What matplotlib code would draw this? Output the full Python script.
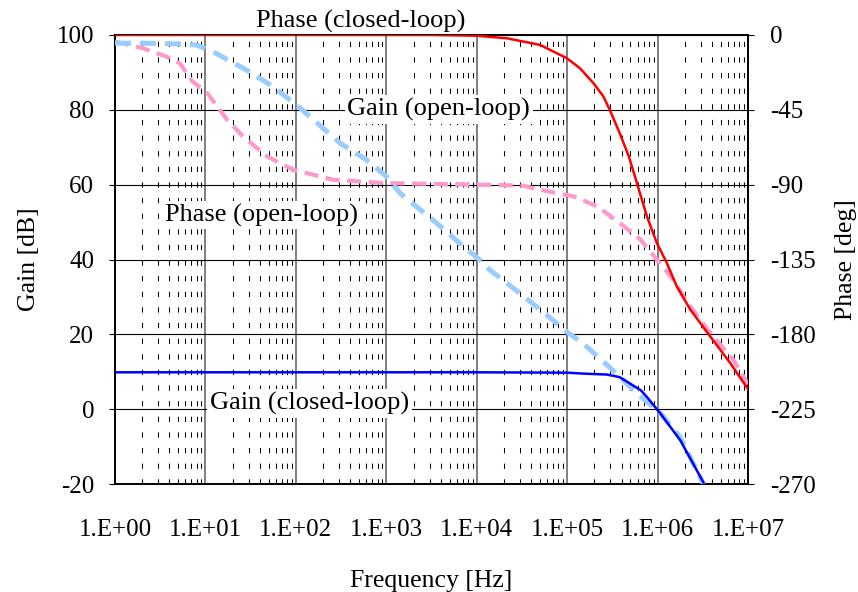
import matplotlib.pyplot as plt
from matplotlib.ticker import LogLocator, NullFormatter

plt.rcParams['font.family'] = ['Liberation Serif', 'DejaVu Serif']
plt.rcParams['font.size'] = 18.5
plt.rcParams['axes.unicode_minus'] = False

# open-loop gain [dB]
ol_gain_freq = [1, 2, 5, 8, 12.8, 19.5, 28.6, 56, 86, 111, 308, 607, 1010,
                1420, 3300, 6530, 1.09e4, 1.4e4, 3.0e4, 6.97e4, 1.0e5,
                1.5e5, 2.95e5, 5.9e5, 1.07e6, 1.78e6, 2.95e6, 3.2e6]
ol_gain_db = [97.8, 97.8, 97.6, 97.3, 95.2, 92.8, 90.6, 86.2, 82.6, 80.5,
              71.1, 66.6, 62.1, 57.7, 50.5, 44.3, 39.8, 37.2, 31.0, 23.8,
              20.6, 17.6, 11.2, 4.3, -1.0, -7.5, -18.2, -20.0]

# closed-loop gain [dB]
cl_gain_freq = [1, 10, 100, 1e3, 1e4, 1e5, 1.5e5, 2.75e5, 3.8e5, 6.5e5,
                7.6e5, 1.07e6, 1.78e6, 3.2e6]
cl_gain_db = [9.9, 9.9, 9.9, 9.9, 9.9, 9.8, 9.55, 9.3, 8.6, 5.1,
              3.3, -1.1, -8.3, -19.5]

# closed-loop phase [deg]
cl_phase_freq = [1, 100, 3160, 1e4, 2.14e4, 5.0e4, 9.9e4, 1.38e5, 1.95e5,
                 2.51e5, 2.95e5, 3.8e5, 4.79e5, 5.89e5, 7.59e5, 9.77e5,
                 1.26e6, 1.62e6, 2.29e6, 3.55e6, 6.3e6, 1e7]
cl_phase_deg = [0, 0, 0, -0.5, -2, -6, -14, -20, -29, -37, -45, -59, -73,
                -89, -109, -125, -137, -151, -165, -179, -197, -213]

# open-loop phase [deg]
ol_phase_freq = [1, 2.04, 3.7, 5.2, 7.2, 10.5, 17.4, 26, 48, 93, 257, 933,
                 3160, 1e4, 3.16e4, 5.0e4, 1.17e5, 2.14e5, 3.8e5, 6.46e5,
                 9.77e5, 1.48e6, 2.14e6, 3.55e6, 6.8e6, 1e7]
ol_phase_deg = [-4, -8, -13, -17, -28, -35, -51, -61, -73, -81, -87, -89,
                -89.5, -90, -90.5, -93, -97, -103, -113, -123, -135, -147,
                -161, -177, -195, -210]

x_ticks = [1e0, 1e1, 1e2, 1e3, 1e4, 1e5, 1e6, 1e7]
x_tick_labels = ['1.E+00', '1.E+01', '1.E+02', '1.E+03', '1.E+04',
                 '1.E+05', '1.E+06', '1.E+07']
gain_ticks = [-20, 0, 20, 40, 60, 80, 100]
phase_ticks = [-270, -225, -180, -135, -90, -45, 0]

fig = plt.figure(figsize=(8.58, 5.92), dpi=100)
ax = fig.add_axes([0.134, 0.182, 0.738, 0.759])
ax2 = ax.twinx()

ax.set_xscale('log')
ax.set_xlim(1, 1e7)
ax.set_ylim(-20, 100)
ax2.set_ylim(-270, 0)

ax.set_xticks(x_ticks, x_tick_labels)
ax.xaxis.set_minor_locator(LogLocator(base=10, subs=range(2, 10), numticks=100))
ax.xaxis.set_minor_formatter(NullFormatter())
ax.set_yticks(gain_ticks)
ax2.set_yticks(phase_ticks)

ax.tick_params(axis='x', which='both', length=0, pad=25, labelsize=18)
ax.tick_params(axis='y', length=4, direction='out', pad=11, labelsize=18)
ax2.tick_params(axis='y', length=4, direction='out', pad=11.5, labelsize=18)

# grid
ax.grid(True, which='major', axis='x', color='#7f7f7f', linewidth=1.4)
ax.grid(True, which='minor', axis='x', color='black', linewidth=0.75,
        linestyle=(0, (5, 10)))
ax.grid(True, which='major', axis='y', color='black', linewidth=0.8)
ax.set_axisbelow(True)

for a in (ax, ax2):
    for sp in a.spines.values():
        sp.set_color('black')
        sp.set_linewidth(1.2)

ax.set_xlabel('Frequency [Hz]', labelpad=21)
ax.set_ylabel('Gain [dB]', labelpad=12)
ax2.set_ylabel('Phase [deg]', labelpad=14)

box = dict(facecolor='white', edgecolor='none', pad=2)
ax.text(3.8e3, 80, 'Gain (open-loop)', ha='center', va='center',
        fontsize=19, bbox=box, zorder=1.5)
ax.text(42, 51.9, 'Phase (open-loop)', ha='center', va='center',
        fontsize=19, bbox=box, zorder=1.5)
ax.text(140, 1.6, 'Gain (closed-loop)', ha='center', va='center',
        fontsize=19, bbox=box, zorder=1.5)
ax.text(515, 100.6, 'Phase (closed-loop)', ha='center', va='bottom',
        fontsize=19, zorder=1.5)

# curves on the phase axis
ax2.plot(ol_phase_freq, ol_phase_deg, color='#ff99cc', linewidth=3.0,
         dashes=(3.4, 1.8), zorder=3)
ax2.plot(cl_phase_freq, cl_phase_deg, color='#ff0000', linewidth=1.8, zorder=4)
# curves on the gain axis, drawn on top via ax2 with gain-axis transform
ax2.plot(ol_gain_freq, ol_gain_db, color='#99ccff', linewidth=3.6,
         dashes=(3.2, 1.8), transform=ax.transData, zorder=3)
ax2.plot(cl_gain_freq, cl_gain_db, color='#0000ff', linewidth=1.8,
         transform=ax.transData, zorder=4)

fig.savefig('out.png', dpi=100)
